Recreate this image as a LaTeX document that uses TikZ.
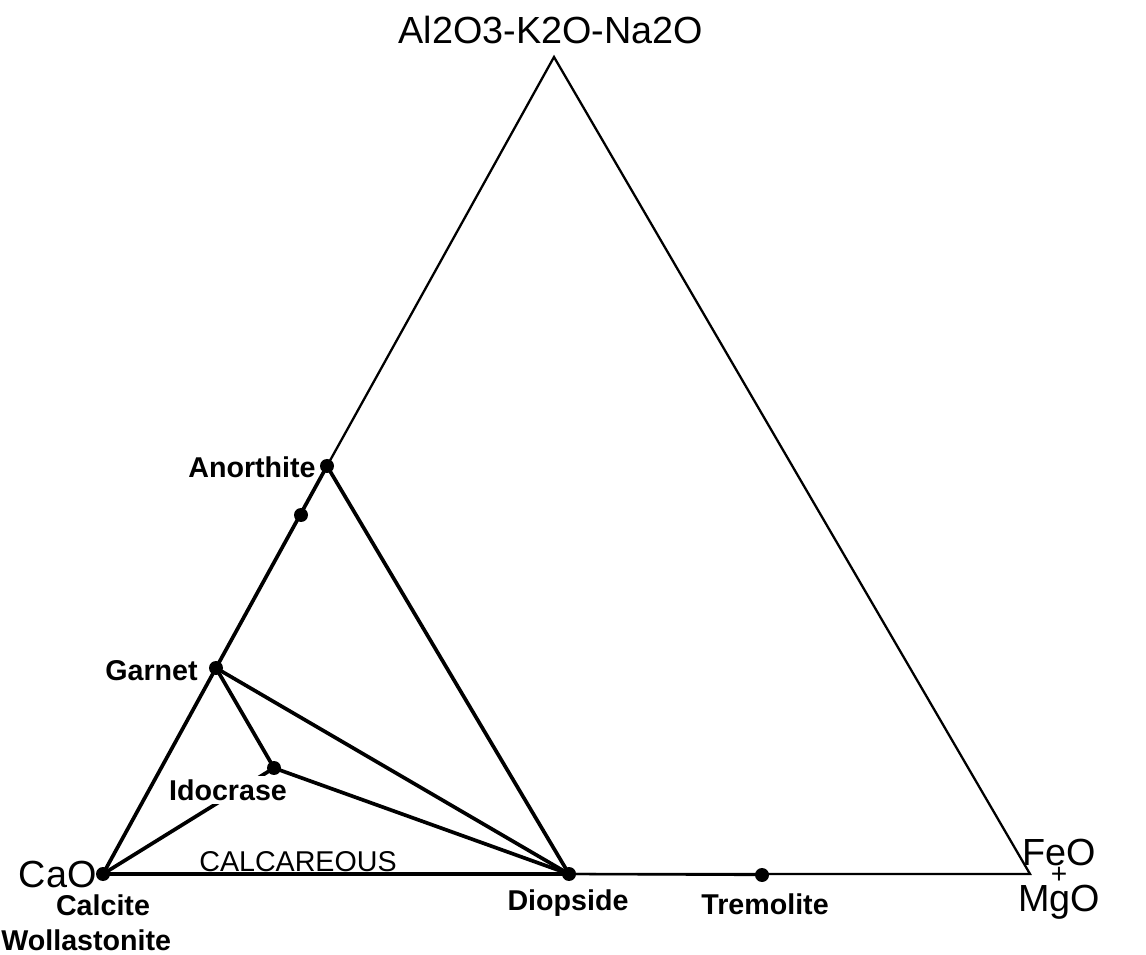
\documentclass[tikz,border=0pt]{standalone}
\usepackage{fontspec}
\setmainfont{Liberation Sans}
\begin{document}
\begin{tikzpicture}[x=0.02cm,y=-0.02cm,
  outer/.style={line width=1.3pt},
  inner/.style={line width=2.1pt},
  dotm/.style={circle,fill=black,inner sep=0pt,minimum size=0.28cm},
  oxide/.style={font=\fontsize{21.5}{24}\selectfont,inner sep=0pt},
  mineral/.style={font=\bfseries\fontsize{16.3}{18}\selectfont,inner sep=0pt},
  ]
\useasboundingbox (0,0) rectangle (1146,955);
% vertices
\coordinate (A) at (554,57);
\coordinate (C) at (103,874);
\coordinate (F) at (1030,874);
% points
\node[dotm] (an) at (327,466) {};
\node[dotm] (d2) at (301,515) {};
\node[dotm] (ga) at (216,668) {};
\node[dotm] (id) at (274,768) {};
\node[dotm] (di) at (569,874) {};
\node[dotm] (tr) at (762,875) {};
\node[dotm] (ca) at (C) {};
% outer triangle
\draw[outer] (an.center) -- (A) -- (F) -- (di.center);
\draw[outer] (di.center) -- (tr.center);
% inner tie lines
\draw[inner] (ca.center) -- (ga.center) -- (an.center);
\draw[inner,line width=2.5pt] (ca.center) -- (di.center);
\draw[inner] (an.center) -- (di.center);
\draw[inner] (ga.center) -- (di.center);
\draw[inner] (ga.center) -- (id.center) -- (di.center);
\draw[inner] (ca.center) -- (id.center);
% labels
\node[oxide] (ltop) at (551,30) {Al2O3-K2O-Na2O};
\node[oxide,anchor=east] (lcao) at (97,874) {CaO};
\node[inner sep=0pt,anchor=center] (lfm) at (1059,879)
  {\fontsize{21.5}{0}\selectfont
   \vbox{\lineskiplimit=-100pt\relax\lineskip=0pt\relax\baselineskip=0pt\relax
     \halign{\hfil#\hfil\cr FeO\cr\noalign{\vskip10pt}
       \fontsize{16}{0}\selectfont +\cr\noalign{\vskip16pt}
       MgO\cr}}};
\node[mineral] (lcalc) at (103,905) {Calcite};
\node[mineral,anchor=west] (lwoll) at (1,940) {Wollastonite};
\node[mineral,anchor=east] (lanor) at (316,467) {Anorthite};
\node[mineral,anchor=east] (lgar) at (198,671) {Garnet};
\node[mineral,fill=white,inner sep=2pt] (lido) at (228,790) {Idocrase};
\node[inner sep=0pt,anchor=base,font=\fontsize{16.3}{18}\selectfont] (lcalcar) at (298,871) {CALCAREOUS};
\node[mineral] (ldio) at (568,903) {Diopside};
\node[mineral] (ltre) at (765,904) {Tremolite};
\end{tikzpicture}
\end{document}
